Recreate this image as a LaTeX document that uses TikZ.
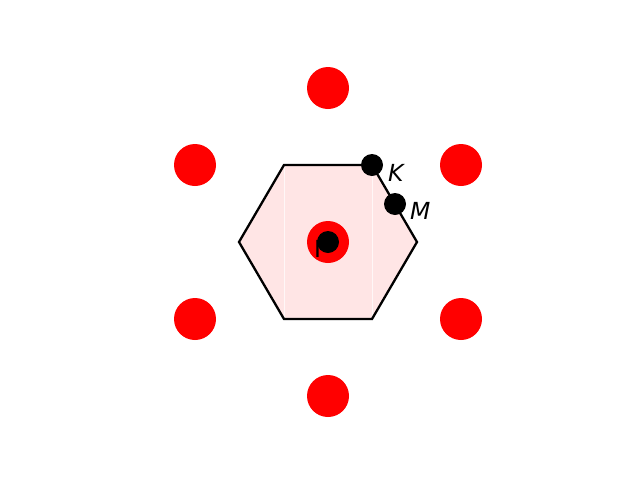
\documentclass[tikz,border=0pt]{standalone}
\usepackage{fontspec}
\setmainfont{DejaVu Sans}
\begin{document}
\begin{tikzpicture}[x=1pt,y=-1pt,
  reddot/.style={circle,fill=red,minimum size=42pt,inner sep=0pt},
  blackdot/.style={circle,fill=black,minimum size=22pt,inner sep=0pt},
  lbl/.style={inner sep=0pt,font=\fontsize{23.5pt}{23.5pt}\selectfont}]
\useasboundingbox (0,0) rectangle (640,480);
% Brillouin zone
\fill[red!10] (239,242) -- (284,165) -- (372,165) -- (417,242) -- (372,319) -- (284,319) -- cycle;
\draw[white!70!red!10,line width=0.6pt] (284,165) -- (284,319);
\draw[white!70!red!10,line width=0.6pt] (372,165) -- (372,319);
\draw[black,line width=2.3pt,line join=miter] (239,242) -- (284,165) -- (372,165) -- (417,242) -- (372,319) -- (284,319) -- cycle;
% reciprocal lattice points
\node[reddot] (r0) at (328,242) {};
\node[reddot] (r1) at (328,88) {};
\node[reddot] (r2) at (328,396) {};
\node[reddot] (r3) at (195,165) {};
\node[reddot] (r4) at (461,165) {};
\node[reddot] (r5) at (195,319) {};
\node[reddot] (r6) at (461,319) {};
% labels
\node[lbl,anchor=base west] (lG) at (314,257) {Γ};
\node[lbl,anchor=base west] (lK) at (388,181) {\itshape K};
\node[lbl,anchor=base west] (lM) at (410,219) {\itshape M};
% high symmetry points
\node[blackdot] (G) at (328,242) {};
\node[blackdot] (K) at (372,165) {};
\node[blackdot] (M) at (395,204) {};
\end{tikzpicture}
\end{document}
